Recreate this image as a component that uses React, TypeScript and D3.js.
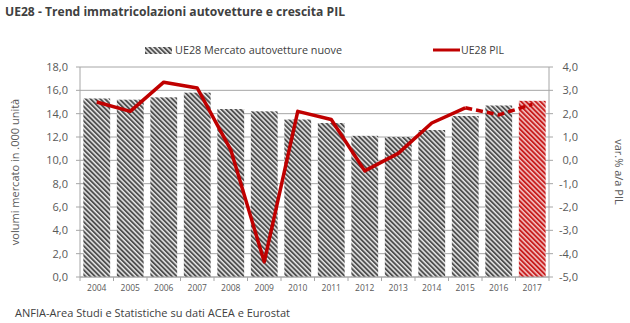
import React from "react";
import * as d3 from "d3";

const years = ["2004","2005","2006","2007","2008","2009","2010","2011","2012","2013","2014","2015","2016","2017"];
const market = [15.3, 15.2, 15.4, 15.8, 14.4, 14.2, 13.5, 13.2, 12.1, 12.0, 12.6, 13.8, 14.7, 15.1];
const gdp = [2.5, 2.1, 3.35, 3.1, 0.45, -4.35, 2.1, 1.75, -0.45, 0.3, 1.6, 2.25, 1.95, 2.4];
const leftTicks = [0, 2, 4, 6, 8, 10, 12, 14, 16, 18];
const rightTicks = [-5, -4, -3, -2, -1, 0, 1, 2, 3, 4];

const W = 630, H = 323;
const L = 80, R = 549, T = 67, B = 277;
const FONT = "'Open Sans', 'DejaVu Sans', sans-serif";
const fmt = (v: number) => v.toFixed(1).replace(".", ",");

export default function App() {
  const x = d3.scaleBand().domain(years).range([L, R]).paddingInner(0.2).paddingOuter(0.1);
  const yL = d3.scaleLinear().domain([0, 18]).range([B, T]);
  const yR = d3.scaleLinear().domain([-5, 4]).range([B, T]);
  const cx = (y: string) => (x(y) as number) + x.bandwidth() / 2;
  const solidIdx = years.map((_, i) => i).filter((i) => i <= 11);
  const dashIdx = years.map((_, i) => i).filter((i) => i >= 11);
  const lineGen = d3.line<number>().x((i) => cx(years[i])).y((i) => yR(gdp[i]));
  const solidPath = lineGen(solidIdx);
  const dashPath = lineGen(dashIdx);
  const step = (R - L) / years.length;
  const boundaries = d3.range(years.length + 1).map((i) => L + i * step);
  const gray = "#595959";
  return (
    <svg width={W} height={H} style={{ position: "absolute", left: 0, top: 0, background: "#fff" }}>
      <defs>
        <pattern id="hatchGray" patternUnits="userSpaceOnUse" width="3.4" height="3.4" patternTransform="rotate(-45)">
          <rect width="3.4" height="3.4" fill="#e8e8e8" />
          <rect width="1.9" height="3.4" fill="#505050" />
        </pattern>
        <pattern id="hatchRed" patternUnits="userSpaceOnUse" width="3.4" height="3.4" patternTransform="rotate(-45)">
          <rect width="3.4" height="3.4" fill="#f4c4c4" />
          <rect width="1.9" height="3.4" fill="#c81e1e" />
        </pattern>
      </defs>
      <text x={5} y={16} fontFamily={FONT} fontSize={12.5} fontWeight="bold" fill="#404040"
        textLength={340} lengthAdjust="spacingAndGlyphs">UE28 - Trend immatricolazioni autovetture e crescita PIL</text>

      {/* legend */}
      <rect x={145} y={47} width={27} height={7} fill="url(#hatchGray)" />
      <text x={175} y={54} fontFamily={FONT} fontSize={10.5} fill="#404040"
        textLength={167} lengthAdjust="spacingAndGlyphs">UE28 Mercato autovetture nuove</text>
      <line x1={433} x2={460} y1={50} y2={50} stroke="#c00000" strokeWidth={3} />
      <text x={461} y={54} fontFamily={FONT} fontSize={10.5} fill="#404040">UE28 PIL</text>

      {/* grid */}
      {leftTicks.map((t) => (
        <line key={"g" + t} x1={L} x2={R} y1={yL(t)} y2={yL(t)} stroke="#a6a6a6" strokeWidth={1} />
      ))}
      {/* bars */}
      {years.map((y, i) => (
        <rect key={y} x={x(y)} y={yL(market[i])} width={x.bandwidth()} height={B - yL(market[i])}
          fill={i === years.length - 1 ? "url(#hatchRed)" : "url(#hatchGray)"} />
      ))}
      {/* axes */}
      <line x1={L} x2={L} y1={T} y2={B} stroke="#a6a6a6" />
      <line x1={R} x2={R} y1={T} y2={B} stroke="#a6a6a6" />
      <line x1={L} x2={R} y1={B} y2={B} stroke="#a6a6a6" />
      {leftTicks.map((t) => (
        <g key={"l" + t}>
          <line x1={L - 4} x2={L} y1={yL(t)} y2={yL(t)} stroke="#a6a6a6" />
          <text x={L - 12} y={yL(t) + 4} textAnchor="end" fontFamily={FONT} fontSize={11} fill={gray}>{fmt(t)}</text>
        </g>
      ))}
      {rightTicks.map((t) => (
        <g key={"r" + t}>
          <line x1={R} x2={R + 4} y1={yR(t)} y2={yR(t)} stroke="#a6a6a6" />
          <text x={R + 29} y={yR(t) + 4} textAnchor="end" fontFamily={FONT} fontSize={11} fill={gray}>{fmt(t)}</text>
        </g>
      ))}
      {boundaries.map((b, i) => (
        <line key={"b" + i} x1={b} x2={b} y1={B} y2={B + 4} stroke="#a6a6a6" />
      ))}
      {years.map((y) => (
        <text key={"x" + y} x={cx(y)} y={B + 14} textAnchor="middle" fontFamily={FONT} fontSize={8.5} fill={gray}>{y}</text>
      ))}
      <text transform={`translate(19,${(T + B) / 2}) rotate(-90)`} textAnchor="middle" fontFamily={FONT} fontSize={11} fill={gray}>volumi mercato in .000 unità</text>
      <text transform={`translate(615,${(T + B) / 2}) rotate(90)`} textAnchor="middle" fontFamily={FONT} fontSize={11} fill={gray}>var.% a/a PIL</text>

      {/* line */}
      <path d={solidPath || ""} fill="none" stroke="#c00000" strokeWidth={3.5} strokeLinejoin="round" />
      <path d={dashPath || ""} fill="none" stroke="#c00000" strokeWidth={3.5} strokeDasharray="7,4" />

      <text x={15} y={317} fontFamily={FONT} fontSize={10.5} fill="#404040"
        textLength={275} lengthAdjust="spacingAndGlyphs">ANFIA-Area Studi e Statistiche su dati ACEA e Eurostat</text>
    </svg>
  );
}
